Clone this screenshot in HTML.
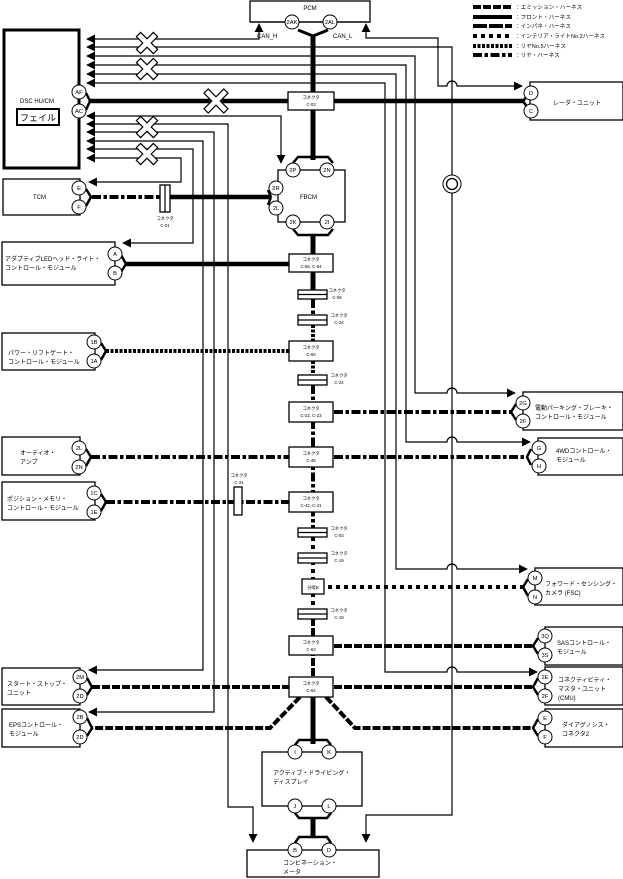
<!DOCTYPE html>
<html><head><meta charset="utf-8"><style>
html,body{margin:0;padding:0;background:#fff}
svg{display:block}
text{font-family:"Liberation Sans","Noto Sans CJK JP",sans-serif;fill:#000}
.b{fill:#fff;stroke:#000;stroke-width:1.3}
.t{fill:none;stroke:#000;stroke-width:1.2}
.w{fill:none;stroke:#000;stroke-width:4}
.em{stroke-dasharray:8 2}
.ip{stroke-dasharray:14 2}
.il{stroke-dasharray:4 4}
.r5{stroke-dasharray:3 1.5}
.rd{stroke-dasharray:9 2.5 3.5 2.5}
.c{fill:#fff;stroke:#000;stroke-width:1}
.cl{font-size:5.8px;text-anchor:middle}
.s{font-size:6px}
.k{font-size:4.3px;text-anchor:middle}
.lg{font-size:5.6px}
</style></head><body>
<svg width="623" height="879" viewBox="0 0 623 879" xmlns="http://www.w3.org/2000/svg">
<defs>
<marker id="a" viewBox="0 0 10 10" refX="9" refY="5" markerWidth="9" markerHeight="9" markerUnits="userSpaceOnUse" orient="auto-start-reverse"><path d="M0,0L10,5L0,10z"/></marker>
</defs>

<!-- boxes -->
<rect class="b" x="250" y="1" width="120" height="21"/>
<text class="s" x="310" y="10" text-anchor="middle">PCM</text>
<rect x="4" y="30" width="75" height="138" fill="#fff" stroke="#000" stroke-width="3"/>
<text class="s" x="20" y="103">DSC HU/CM</text>
<rect x="17" y="109" width="42" height="16" fill="#fff" stroke="#000" stroke-width="2"/>
<text x="38" y="121" font-size="9" text-anchor="middle">フェイル</text>
<rect class="b" x="3" y="179" width="77" height="36"/>
<text class="s" x="33" y="199">TCM</text>
<rect class="b" x="278" y="170" width="67" height="52"/>
<text class="s" x="300" y="199">FBCM</text>
<rect class="b" x="2" y="242" width="113" height="43"/>
<text class="s" x="5" y="261">アダプティブLEDヘッド・ライト・</text>
<text class="s" x="5" y="270">コントロール・モジュール</text>
<rect class="b" x="2" y="333" width="93" height="37"/>
<text class="s" x="8" y="355">パワー・リフトゲート・</text>
<text class="s" x="8" y="364">コントロール・モジュール</text>
<rect class="b" x="2" y="437" width="78" height="38"/>
<text class="s" x="20" y="455">オーディオ・</text>
<text class="s" x="20" y="464">アンプ</text>
<rect class="b" x="2" y="482" width="93" height="38"/>
<text class="s" x="7" y="501">ポジション・メモリ・</text>
<text class="s" x="7" y="510">コントロール・モジュール</text>
<rect class="b" x="2" y="668" width="78" height="37"/>
<text class="s" x="7" y="686">スタート・ストップ・</text>
<text class="s" x="7" y="695">ユニット</text>
<rect class="b" x="2" y="709" width="78" height="38"/>
<text class="s" x="9" y="727">EPSコントロール・</text>
<text class="s" x="9" y="736">モジュール</text>
<rect class="b" x="530" y="82" width="93" height="38"/>
<text class="s" x="553" y="105">レーダ・ユニット</text>
<rect class="b" x="523" y="392" width="100" height="38"/>
<text class="s" x="535" y="410">電動パーキング・ブレーキ・</text>
<text class="s" x="535" y="419">コントロール・モジュール</text>
<rect class="b" x="538" y="438" width="85" height="37"/>
<text class="s" x="556" y="453">4WDコントロール・</text>
<text class="s" x="556" y="462">モジュール</text>
<rect class="b" x="535" y="568" width="88" height="37"/>
<text class="s" x="545" y="586">フォワード・センシング・</text>
<text class="s" x="545" y="595">カメラ (FSC)</text>
<rect class="b" x="545" y="627" width="78" height="38"/>
<text class="s" x="557" y="645">SASコントロール・</text>
<text class="s" x="557" y="654">モジュール</text>
<rect class="b" x="545" y="667" width="78" height="38"/>
<text class="s" x="558" y="682">コネクティビティ・</text>
<text class="s" x="558" y="691">マスタ・ユニット</text>
<text class="s" x="558" y="700">(CMU)</text>
<rect class="b" x="545" y="709" width="78" height="38"/>
<text class="s" x="562" y="727">ダイアグノシス・</text>
<text class="s" x="562" y="736">コネクタ2</text>
<rect class="b" x="262" y="752" width="100" height="54"/>
<text class="s" x="273" y="775">アクティブ・ドライビング・</text>
<text class="s" x="273" y="784">ディスプレイ</text>
<rect class="b" x="247" y="850" width="132" height="27"/>
<text class="s" x="283" y="865">コンビネーション・</text>
<text class="s" x="283" y="874">メータ</text>

<!-- legend -->
<g>
<line class="w em" x1="473" y1="7" x2="512" y2="7" stroke-width="3.5"/>
<line class="w" x1="473" y1="17" x2="512" y2="17" stroke-width="3.5"/>
<line class="w ip" x1="473" y1="26" x2="512" y2="26" stroke-width="3.5"/>
<line class="w il" x1="473" y1="36" x2="512" y2="36" stroke-width="3.5"/>
<line class="w r5" x1="473" y1="46" x2="512" y2="46" stroke-width="3.5"/>
<line class="w rd" x1="473" y1="55" x2="512" y2="55" stroke-width="3.5"/>
<text class="lg" x="515" y="9">：エミッション・ハーネス</text>
<text class="lg" x="515" y="19">：フロント・ハーネス</text>
<text class="lg" x="515" y="28">：インパネ・ハーネス</text>
<text class="lg" x="515" y="38">：インテリア・ライトNo.2ハーネス</text>
<text class="lg" x="515" y="48">：リヤNo.5ハーネス</text>
<text class="lg" x="515" y="57">：リヤ・ハーネス</text>
</g>

<!-- thin signal lines -->
<g class="t">
<path d="M87,39H259V24" marker-start="url(#a)" marker-end="url(#a)"/>
<path d="M87,47H452V815H366V842" marker-start="url(#a)" marker-end="url(#a)"/>
<path d="M87,56H415V393H447a5,5 0 0 1 10,0H515" marker-start="url(#a)" marker-end="url(#a)"/>
<path d="M87,65H406V442H447a5,5 0 0 1 10,0H530" marker-start="url(#a)" marker-end="url(#a)"/>
<path d="M87,74H396V569H447a5,5 0 0 1 10,0H527" marker-start="url(#a)" marker-end="url(#a)"/>
<path d="M87,83H385V672H447a5,5 0 0 1 10,0H537" marker-start="url(#a)" marker-end="url(#a)"/>
<path d="M366,24V38H438V86H447a5,5 0 0 1 10,0H522" marker-start="url(#a)" marker-end="url(#a)"/>
<path d="M87,116H281V163" marker-start="url(#a)" marker-end="url(#a)"/>
<path d="M87,124H228V807H253V842" marker-start="url(#a)" marker-end="url(#a)"/>
<path d="M87,132H214V712H89" marker-start="url(#a)" marker-end="url(#a)"/>
<path d="M87,141H203V670H89" marker-start="url(#a)" marker-end="url(#a)"/>
<path d="M87,149H193V243H123" marker-start="url(#a)" marker-end="url(#a)"/>
<path d="M87,158H181V182H89" marker-start="url(#a)" marker-end="url(#a)"/>
</g>
<circle cx="452" cy="184" r="9" class="c" stroke-width="1.3"/>
<circle cx="452" cy="184" r="5.5" fill="none" stroke="#000" stroke-width="1.3"/>

<!-- X marks -->
<g fill="#fff" stroke="#000" stroke-width="1.2">
<path transform="translate(147,43) rotate(45)" d="M-3,-12H3V-3H12V3H3V12H-3V3H-12V-3H-3z"/>
<path transform="translate(147,69) rotate(45)" d="M-3,-12H3V-3H12V3H3V12H-3V3H-12V-3H-3z"/>
<path transform="translate(147,127) rotate(45)" d="M-3,-12H3V-3H12V3H3V12H-3V3H-12V-3H-3z"/>
<path transform="translate(147,154) rotate(45)" d="M-3,-12H3V-3H12V3H3V12H-3V3H-12V-3H-3z"/>
</g>

<!-- main bus -->
<g class="w">
<path d="M298,30L313,36L328,30" stroke-width="3"/>
<line x1="313" y1="36" x2="313" y2="160" stroke-width="5"/>
<path d="M90,101H523" stroke-width="4.5"/>
<path d="M86,93L90,101L86,110" stroke-width="2.5"/>
<path d="M523,101L529,94M523,101L529,110" stroke-width="2.5"/>
<path d="M293,163L298,157H328L333,163" stroke-width="2.5"/>
<path d="M293,229L298,235H328L333,229" stroke-width="2.5"/>
<line x1="313" y1="235" x2="313" y2="290" stroke-width="5"/>
<line class="w rd" x1="313" y1="299" x2="313" y2="315" stroke-width="5"/>
<line class="w r5" x1="313" y1="325" x2="313" y2="375" stroke-width="5"/>
<line class="w rd" x1="313" y1="385" x2="313" y2="528" stroke-width="5"/>
<line class="w il" x1="313" y1="537" x2="313" y2="610" stroke-width="5"/>
<line class="w em" x1="313" y1="618" x2="313" y2="697" stroke-width="5"/>
<line x1="313" y1="697" x2="313" y2="744" stroke-width="5"/>
<path d="M295,745L299,740H327L331,745" stroke-width="2.5"/>
<path d="M295,813L299,818H327L331,813" stroke-width="2.5"/>
<line x1="313" y1="818" x2="313" y2="836" stroke-width="5"/>
<path d="M295,843L299,837H327L331,843" stroke-width="2.5"/>
<line class="w rd" x1="92" y1="197" x2="160" y2="197"/>
<line x1="170" y1="197" x2="270" y2="197" stroke-width="4.5"/>
<path d="M86,189L91,197L86,206" stroke-width="2.5"/>
<path d="M271,197L268,190M271,197L268,205" stroke-width="2.5"/>
<path d="M125,264H290" stroke-width="4.5"/>
<path d="M121,255L126,264L121,272" stroke-width="2.5"/>
<line class="w r5" x1="106" y1="351" x2="290" y2="351"/>
<path d="M101,343L106,351L101,360" stroke-width="2.5"/>
<line class="w rd" x1="334" y1="412" x2="512" y2="412"/>
<path d="M516,404L511,412L516,420" stroke-width="2.5"/>
<line class="w rd" x1="91" y1="457" x2="290" y2="457"/>
<line class="w rd" x1="334" y1="457" x2="527" y2="457"/>
<path d="M86,449L91,457L86,466" stroke-width="2.5"/>
<path d="M531,449L527,457L531,465" stroke-width="2.5"/>
<line class="w rd" x1="106" y1="502" x2="290" y2="502"/>
<path d="M101,494L106,502L101,511" stroke-width="2.5"/>
<line class="w il" x1="328" y1="587" x2="523" y2="587"/>
<path d="M528,579L523,587L528,596" stroke-width="2.5"/>
<line class="w em" x1="334" y1="646" x2="533" y2="646"/>
<path d="M538,638L533,646L538,654" stroke-width="2.5"/>
<line class="w em" x1="92" y1="687" x2="290" y2="687"/>
<line class="w em" x1="334" y1="687" x2="533" y2="687"/>
<path d="M87,678L92,687L87,695" stroke-width="2.5"/>
<path d="M538,678L533,687L538,695" stroke-width="2.5"/>
<path class="w em" d="M300,697L270,728H92"/>
<path class="w em" d="M326,697L355,728H533"/>
<path d="M87,718L92,728L87,736" stroke-width="2.5"/>
<path d="M538,719L533,728L538,736" stroke-width="2.5"/>
</g>

<path fill="#fff" stroke="#000" stroke-width="1.2" transform="translate(216,101) rotate(45)" d="M-3,-14H3V-3H14V3H3V14H-3V3H-14V-3H-3z"/>

<!-- connector boxes -->
<g>
<rect class="b" x="288" y="92" width="46" height="18"/>
<text class="k" x="311" y="99">コネクタ</text><text class="k" x="311" y="106">C-03</text>
<rect class="b" x="160" y="185" width="10" height="27"/><line class="t" x1="165" y1="185" x2="165" y2="212"/>
<text class="k" x="165" y="220">コネクタ</text><text class="k" x="165" y="227">C-01</text>
<rect class="b" x="289" y="254" width="44" height="18"/>
<text class="k" x="311" y="261">コネクタ</text><text class="k" x="311" y="268">C-55, C-54</text>
<rect class="b" x="298" y="290" width="29" height="9"/><line class="t" x1="298" y1="294.5" x2="327" y2="294.5"/>
<text class="k" x="337" y="292">コネクタ</text><text class="k" x="337" y="299">C-08</text>
<rect class="b" x="298" y="315" width="29" height="10"/><line class="t" x1="298" y1="320" x2="327" y2="320"/>
<text class="k" x="339" y="317">コネクタ</text><text class="k" x="339" y="324">C-24</text>
<rect class="b" x="289" y="341" width="44" height="20"/>
<text class="k" x="311" y="349">コネクタ</text><text class="k" x="311" y="356">C-65</text>
<rect class="b" x="298" y="375" width="29" height="10"/><line class="t" x1="298" y1="380" x2="327" y2="380"/>
<text class="k" x="339" y="377">コネクタ</text><text class="k" x="339" y="384">C-24</text>
<rect class="b" x="289" y="402" width="44" height="20"/>
<text class="k" x="311" y="410">コネクタ</text><text class="k" x="311" y="417">C-22, C-23</text>
<rect class="b" x="289" y="447" width="44" height="20"/>
<text class="k" x="311" y="455">コネクタ</text><text class="k" x="311" y="462">C-45</text>
<rect class="b" x="234" y="487" width="8" height="28"/>
<text class="k" x="239" y="477">コネクタ</text><text class="k" x="239" y="484">C-31</text>
<rect class="b" x="289" y="492" width="44" height="20"/>
<text class="k" x="311" y="500">コネクタ</text><text class="k" x="311" y="507">C-42, C-41</text>
<rect class="b" x="298" y="528" width="29" height="9"/><line class="t" x1="298" y1="532.5" x2="327" y2="532.5"/>
<text class="k" x="339" y="530">コネクタ</text><text class="k" x="339" y="537">C-03</text>
<rect class="b" x="298" y="553" width="29" height="10"/><line class="t" x1="298" y1="558" x2="327" y2="558"/>
<text class="k" x="339" y="555">コネクタ</text><text class="k" x="339" y="562">C-19</text>
<rect class="b" x="302" y="579" width="22" height="15"/>
<text class="k" x="313" y="589">分岐B</text>
<rect class="b" x="298" y="609" width="29" height="10"/><line class="t" x1="298" y1="614" x2="327" y2="614"/>
<text class="k" x="339" y="612">コネクタ</text><text class="k" x="339" y="619">C-19</text>
<rect class="b" x="289" y="636" width="44" height="19"/>
<text class="k" x="311" y="644">コネクタ</text><text class="k" x="311" y="651">C-63</text>
<rect class="b" x="289" y="677" width="44" height="20"/>
<text class="k" x="311" y="685">コネクタ</text><text class="k" x="311" y="692">C-64</text>
</g>

<line class="t" x1="250" y1="22" x2="370" y2="22"/>
<text class="s" x="257" y="38">CAN_H</text>
<text class="s" x="333" y="38">CAN_L</text>

<!-- pin circles -->
<g>
<circle class="c" cx="292" cy="22" r="7"/><text class="cl" x="292" y="24">2AK</text>
<circle class="c" cx="330" cy="22" r="7"/><text class="cl" x="330" y="24">2AL</text>
<circle class="c" cx="79" cy="92" r="7"/><text class="cl" x="79" y="94">AF</text>
<circle class="c" cx="79" cy="111" r="7"/><text class="cl" x="79" y="113">AC</text>
<circle class="c" cx="79" cy="188" r="7"/><text class="cl" x="79" y="190">E</text>
<circle class="c" cx="79" cy="207" r="7"/><text class="cl" x="79" y="209">F</text>
<circle class="c" cx="293" cy="170" r="7"/><text class="cl" x="293" y="172">2P</text>
<circle class="c" cx="327" cy="170" r="7"/><text class="cl" x="327" y="172">2N</text>
<circle class="c" cx="276" cy="188" r="7"/><text class="cl" x="276" y="190">2R</text>
<circle class="c" cx="276" cy="208" r="7"/><text class="cl" x="276" y="210">2L</text>
<circle class="c" cx="293" cy="222" r="7"/><text class="cl" x="293" y="224">2K</text>
<circle class="c" cx="327" cy="222" r="7"/><text class="cl" x="327" y="224">2I</text>
<circle class="c" cx="115" cy="254" r="7"/><text class="cl" x="115" y="256">A</text>
<circle class="c" cx="115" cy="273" r="7"/><text class="cl" x="115" y="275">B</text>
<circle class="c" cx="94" cy="342" r="7"/><text class="cl" x="94" y="344">1B</text>
<circle class="c" cx="94" cy="361" r="7"/><text class="cl" x="94" y="363">1A</text>
<circle class="c" cx="79" cy="448" r="7"/><text class="cl" x="79" y="450">2L</text>
<circle class="c" cx="79" cy="467" r="7"/><text class="cl" x="79" y="469">2N</text>
<circle class="c" cx="94" cy="493" r="7"/><text class="cl" x="94" y="495">1C</text>
<circle class="c" cx="94" cy="512" r="7"/><text class="cl" x="94" y="514">1E</text>
<circle class="c" cx="80" cy="677" r="7"/><text class="cl" x="80" y="679">2M</text>
<circle class="c" cx="80" cy="696" r="7"/><text class="cl" x="80" y="698">2D</text>
<circle class="c" cx="80" cy="717" r="7"/><text class="cl" x="80" y="719">2B</text>
<circle class="c" cx="80" cy="737" r="7"/><text class="cl" x="80" y="739">2D</text>
<circle class="c" cx="531" cy="93" r="7"/><text class="cl" x="531" y="95">D</text>
<circle class="c" cx="531" cy="111" r="7"/><text class="cl" x="531" y="113">C</text>
<circle class="c" cx="523" cy="403" r="7"/><text class="cl" x="523" y="405">2G</text>
<circle class="c" cx="523" cy="421" r="7"/><text class="cl" x="523" y="423">2F</text>
<circle class="c" cx="539" cy="448" r="7"/><text class="cl" x="539" y="450">G</text>
<circle class="c" cx="539" cy="466" r="7"/><text class="cl" x="539" y="468">H</text>
<circle class="c" cx="535" cy="578" r="7"/><text class="cl" x="535" y="580">M</text>
<circle class="c" cx="535" cy="597" r="7"/><text class="cl" x="535" y="599">N</text>
<circle class="c" cx="545" cy="636" r="7"/><text class="cl" x="545" y="638">3Q</text>
<circle class="c" cx="545" cy="655" r="7"/><text class="cl" x="545" y="657">3S</text>
<circle class="c" cx="545" cy="677" r="7"/><text class="cl" x="545" y="679">2E</text>
<circle class="c" cx="545" cy="696" r="7"/><text class="cl" x="545" y="698">2F</text>
<circle class="c" cx="545" cy="718" r="7"/><text class="cl" x="545" y="720">E</text>
<circle class="c" cx="545" cy="737" r="7"/><text class="cl" x="545" y="739">F</text>
<circle class="c" cx="295" cy="752" r="7"/><text class="cl" x="295" y="754">I</text>
<circle class="c" cx="329" cy="752" r="7"/><text class="cl" x="329" y="754">K</text>
<circle class="c" cx="295" cy="806" r="7"/><text class="cl" x="295" y="808">J</text>
<circle class="c" cx="329" cy="806" r="7"/><text class="cl" x="329" y="808">L</text>
<circle class="c" cx="295" cy="850" r="7"/><text class="cl" x="295" y="852">B</text>
<circle class="c" cx="329" cy="850" r="7"/><text class="cl" x="329" y="852">D</text>
</g>
</svg>
</body></html>
